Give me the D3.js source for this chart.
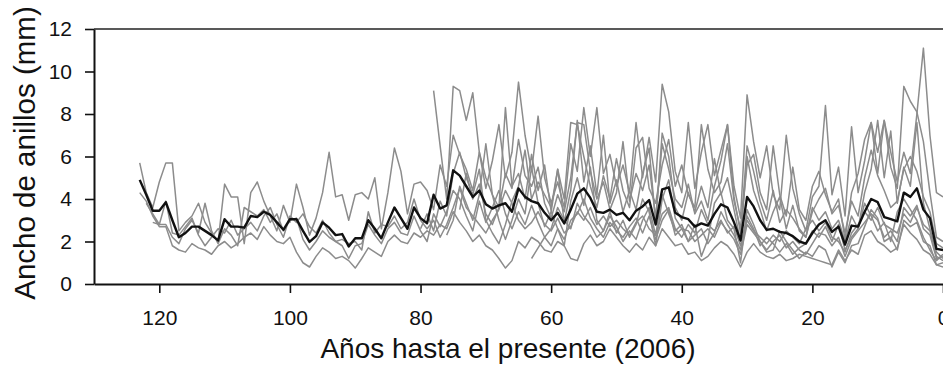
<!DOCTYPE html>
<html>
<head>
<meta charset="utf-8">
<script src="https://cdn.jsdelivr.net/npm/d3@7"></script>
<style>
  html, body { margin: 0; padding: 0; background: #fff; }
  svg { display: block; font-family: "Liberation Sans", Arial, Helvetica, sans-serif; }
</style>
</head>
<body>
<svg id="chart" width="943" height="370"></svg>
<script>
// Ring widths (mm) of individual trees, oldest ring first, ending at year 0 (2006).
const treeStartYears = [123, 123, 122, 121, 78, 80, 76, 63, 74];

const tree1 = [5.7,4.3,3.6,4.8,5.7,5.7,2.5,2.9,3.2,3.8, 2.9,2.4,2.0,4.7,4.1,4.1,1.9,4.3,4.8,3.9,
  3.2,2.5,3.7,2.9,4.7,3.6,2.3,3.1,4.3,6.2, 4.1,4.2,3.0,4.2,4.3,4.0,5.0,2.6,4.3,6.4, 5.3,3.3,4.7,4.8,
  4.4,3.5,5.6,4.6,7.0,6.1,5.4,4.4,6.2,5.0, 4.2,3.6,5.2,4.5,6.8,5.1,4.6,5.5,3.8,3.1,
  4.2,3.4,5.0,7.6,7.5,5.3,4.0,4.8,3.5,4.3, 6.7,3.9,5.2,4.4,5.6,3.1,6.6,5.4,4.0,3.6,
  4.7,3.3,3.9,3.0,4.6,5.8,7.5,4.1,2.4,6.5, 5.3,3.9,3.0,4.4,2.9,3.5,3.1,2.6,2.2,3.4,
  4.0,4.5,3.3,3.7,2.4,3.9,3.2,5.0,6.3,5.1, 4.4,3.6,3.9,5.4,6.0,5.3,4.1,3.4,1.9,1.7];

const tree2 = [4.3,3.9,3.2,2.7,2.7,1.8,1.6,1.5,1.9,1.7, 1.6,1.4,1.8,2.0,1.7,1.9,2.2,2.4,2.1,2.7,
  2.3,2.0,1.9,2.2,1.5,1.0,0.8,1.3,1.7,1.5, 1.2,1.3,1.1,0.75,1.2,1.7,1.5,1.3,2.0,2.3, 2.0,1.9,2.4,2.2,
  2.5,2.3,2.8,2.6,3.4,2.9,2.5,2.0,2.3,1.8, 1.6,1.2,0.75,1.1,2.0,1.7,2.2,2.0,1.6,1.5,
  2.0,1.8,1.2,1.1,1.9,2.3,1.8,2.0,2.6,2.2, 1.8,1.5,1.9,1.6,2.2,1.8,2.6,2.2,1.8,1.9,
  1.4,1.5,1.1,1.3,1.7,2.0,1.8,1.4,0.8,1.5, 1.9,1.5,1.3,1.2,1.4,1.1,1.2,1.4,1.3,1.2,
  1.1,1.0,0.9,1.6,1.1,1.6,1.4,2.3,2.5,2.0, 1.8,1.5,1.7,2.8,2.4,2.1,1.6,1.4,0.9,0.8];

const tree3 = [3.8,3.3,2.8,2.8,2.2,1.9,2.6,3.0,2.4,3.8, 2.5,1.9,2.6,2.3,1.8,3.6,3.4,3.2,3.5,2.9,
  3.3,2.5,3.0,3.1,2.1,1.6,2.0,2.5,2.2,2.0, 1.8,1.2,1.8,1.9,2.8,2.3,1.9,2.6,2.9,2.4, 2.3,3.2,2.5,
  2.0,3.3,2.7,3.4,4.4,4.0,3.2,2.5,3.9,2.9, 3.6,4.4,3.3,2.6,3.4,2.8,3.7,2.9,2.2,1.8,
  2.6,2.1,3.0,3.3,4.0,3.1,2.6,2.2,2.9,2.5, 2.2,2.7,3.1,2.4,3.2,2.1,3.0,3.5,2.3,2.6,
  2.5,2.0,2.3,2.6,2.2,2.9,2.5,2.1,1.4,2.8, 2.4,2.0,1.6,2.0,2.3,1.7,2.0,1.6,1.4,1.9,
  2.4,2.3,1.8,2.2,1.3,2.1,2.5,2.9,3.3,3.0, 2.2,2.5,2.0,3.6,3.2,3.7,2.6,2.3,1.2,1.3];

const tree4 = [2.9,2.8,3.9,2.4,2.3,2.7,3.1,2.3,1.8,2.2, 2.6,2.4,3.0,2.3,2.6,2.9,2.5,3.2,3.6,2.8,
  2.2,3.2,2.9,3.3,2.7,2.4,3.0,2.4,2.0,2.1, 1.9,2.0,1.6,3.4,2.4,2.8,2.7,3.2,2.6,2.9, 4.0,3.0,
  2.6,3.0,2.2,2.8,3.6,4.5,3.6,3.2,2.8,2.4, 3.0,3.5,4.4,3.8,3.0,2.6,2.9,3.4,2.8,2.5,
  3.1,2.4,2.7,3.4,3.0,3.6,2.8,3.2,2.7,3.0, 2.6,2.3,2.9,3.2,2.6,2.3,3.3,3.6,2.6,2.2,
  2.8,2.4,3.5,2.8,2.5,3.0,2.4,2.7,1.8,3.0, 2.5,2.2,1.9,2.3,2.0,2.5,2.2,1.9,2.6,3.0,
  2.5,2.9,2.2,2.0,1.5,2.4,2.8,3.4,3.0,3.6, 2.8,2.6,2.4,3.3,2.9,3.6,2.8,2.5,1.3,1.1];

const tree5 = [9.1,6.5,4.0,9.3,9.1,7.7,9.0,6.2,4.5,
  5.8,7.5,5.0,6.2,9.5,7.0,5.3,7.9,5.0,3.8, 4.8,3.6,6.6,5.3,8.3,6.0,8.3,5.2,6.1,4.6,
  5.6,4.3,7.6,5.0,6.9,4.8,9.4,8.1,5.3,4.3, 7.6,4.5,6.2,7.5,5.1,6.3,7.5,4.6,3.1,8.9,
  6.7,5.0,6.5,4.2,3.5,7.0,4.5,3.3,2.5,4.1, 4.6,8.4,4.2,5.5,3.2,7.4,4.3,5.8,7.6,6.2,
  7.7,5.5,4.5,9.3,8.6,8.1,6.7,4.3,2.2,2.0];

const tree6 = [2.6,
  3.3,2.5,3.9,3.2,5.2,6.2,5.0,4.2,5.4,3.0, 2.4,1.9,2.8,3.9,4.6,6.3,4.0,4.8,4.2,3.6,
  5.4,4.0,7.6,7.5,6.0,4.6,3.6,5.1,4.0,5.9, 4.4,3.6,6.4,6.9,4.5,3.8,5.6,6.8,4.6,5.6,
  4.2,3.6,7.5,5.4,4.3,4.8,6.6,3.9,2.6,5.6, 6.1,4.3,3.5,6.5,4.2,3.2,5.5,3.5,3.0,4.6,
  5.3,4.2,3.4,4.0,2.1,4.3,5.2,6.8,7.6,5.2, 7.7,6.2,4.8,6.2,5.2,8.0,11.1,7.0,4.3,4.1];

const tree7 = [2.3,3.0,4.6,3.8,3.0,4.2,6.6,
  4.2,3.0,2.1,3.0,4.0,3.3,5.5,3.8,2.7,3.4, 2.6,1.8,3.9,5.0,3.7,5.5,3.0,2.5,3.4,2.4,
  3.0,2.2,2.8,4.0,3.4,1.8,4.0,4.9,3.1,2.6, 2.0,2.8,1.3,2.1,3.8,4.3,3.0,2.6,1.0,3.5,
  2.8,2.0,1.5,1.6,2.5,2.0,1.6,1.2,1.5,1.3, 1.8,1.6,0.8,1.5,1.0,1.8,1.9,2.7,3.5,3.1,
  2.0,2.2,1.6,3.0,2.7,2.9,2.0,1.8,0.9,1.0];

const tree8 = [1.2,1.7,2.2,2.6,
  3.6,3.0,2.6,3.8,3.2,2.8,2.2,2.5,3.2,2.7, 2.0,2.5,2.1,3.0,3.6,2.3,4.2,3.3,2.5,2.8,
  2.0,2.3,2.6,1.9,2.4,3.4,2.8,2.3,1.6,3.2, 2.6,1.8,2.2,1.9,1.5,1.9,1.4,1.7,1.9,2.5,
  2.2,2.7,2.0,2.8,1.6,2.2,2.6,3.8,3.2,2.5, 2.9,2.0,3.4,4.0,3.5,3.0,2.2,1.6,1.1,1.4];

const tree9 = [3.5,5.2,4.0,4.7,3.3,
  2.8,3.6,8.3,4.6,5.2,4.0,6.1,4.4,5.6,3.4, 5.4,2.9,4.4,7.7,4.8,6.5,4.2,7.0,3.8,4.9,
  3.4,4.4,3.5,5.2,6.4,2.9,7.1,6.0,3.6,3.0, 4.3,3.4,4.6,3.6,5.9,4.2,5.0,3.5,2.0,6.0,
  4.4,3.5,2.5,3.4,4.1,2.6,3.7,2.5,2.2,3.6, 3.0,3.4,2.6,3.0,2.0,3.2,2.6,4.3,5.4,7.7,
  5.0,7.2,3.8,5.5,4.6,7.6,3.8,2.6,1.5,1.2];

// Mean chronology, year 123 to year 0.
const meanStartYear = 123;
const meanWidth = [4.9,4.2,3.45,3.45,3.85,3.0,2.2,2.4,2.7,2.7, 2.5,2.3,2.05,3.05,2.7,2.7,2.65,3.2,3.15,3.4,
  3.25,2.9,2.55,3.05,3.05,2.5,1.98,2.25,2.9,2.65, 2.3,2.35,1.77,2.15,2.15,3.0,2.6,2.15,2.9,3.6,
  3.1,2.6,3.6,3.1,2.86,4.2,3.55,3.7,5.35,5.1, 4.6,4.1,4.4,3.75,3.55,3.7,3.8,3.4,4.5,4.1,
  3.9,3.8,3.35,3.0,3.35,2.85,3.5,4.25,4.5,4.05, 3.4,3.35,3.5,3.25,3.35,3.0,3.45,3.65,3.95,2.8,
  4.45,4.55,3.35,3.15,3.05,2.7,2.85,2.75,3.3,3.75, 3.6,2.9,2.05,4.1,3.65,3.0,2.55,2.6,2.45,2.4,
  2.25,2.0,1.9,2.4,2.8,3.0,2.45,2.7,1.85,2.75, 2.7,3.4,4.0,3.85,3.15,3.05,2.95,4.3,4.1,4.5,
  3.5,3.1,1.65,1.6];

const xTicks = [120, 100, 80, 60, 40, 20, 0];
const yTicks = [0, 2, 4, 6, 8, 10, 12];
const xTitle = "Años hasta el presente (2006)";
const yTitle = "Ancho de anillos (mm)";

const trees = [tree1, tree2, tree3, tree4, tree5, tree6, tree7, tree8, tree9];

const svg = d3.select("#chart");
const plot = { left: 94, right: 943, top: 29, bottom: 284 };

const x = d3.scaleLinear().domain([130, 0]).range([plot.left, plot.right]);
const y = d3.scaleLinear().domain([0, 12]).range([plot.bottom, plot.top]);

const toPoints = (values, start) => values.map((v, i) => ({ year: start - i, value: v }));
const line = d3.line().x(d => x(d.year)).y(d => y(d.value));

// Individual tree series
svg.append("g")
  .selectAll("path")
  .data(trees.map((t, i) => toPoints(t, treeStartYears[i])))
  .join("path")
  .attr("d", line)
  .attr("fill", "none")
  .attr("stroke", "#8c8c8c")
  .attr("stroke-width", 1.5)
  .attr("stroke-linejoin", "round");

// Mean series on top
svg.append("path")
  .datum(toPoints(meanWidth, meanStartYear))
  .attr("d", line)
  .attr("fill", "none")
  .attr("stroke", "#111")
  .attr("stroke-width", 2.4)
  .attr("stroke-linejoin", "round");

// Top frame line
svg.append("line")
  .attr("x1", plot.left).attr("x2", plot.right)
  .attr("y1", plot.top).attr("y2", plot.top)
  .attr("stroke", "#222").attr("stroke-width", 1.6);

const xAxis = svg.append("g")
  .attr("transform", `translate(0,${plot.bottom})`)
  .call(d3.axisBottom(x).tickValues(xTicks).tickFormat(d3.format("d"))
    .tickSize(9).tickSizeOuter(0).tickPadding(17));

const yAxis = svg.append("g")
  .attr("transform", `translate(${plot.left},0)`)
  .call(d3.axisLeft(y).tickValues(yTicks).tickFormat(d3.format("d"))
    .tickSize(9).tickSizeOuter(0).tickPadding(13));

[xAxis, yAxis].forEach(g => {
  g.select(".domain").attr("stroke", "#111").attr("stroke-width", 2);
  g.selectAll(".tick line").attr("stroke", "#111").attr("stroke-width", 1.6);
  g.selectAll(".tick text")
    .attr("fill", "#111")
    .style("font-size", "21px")
    .style("font-family", "'Liberation Sans', Arial, sans-serif");
});

svg.append("text")
  .attr("x", 508).attr("y", 358)
  .attr("text-anchor", "middle")
  .attr("fill", "#111")
  .style("font-size", "28px")
  .text(xTitle);

svg.append("text")
  .attr("transform", "translate(35,153) rotate(-90)")
  .attr("text-anchor", "middle")
  .attr("fill", "#111")
  .style("font-size", "29.5px")
  .text(yTitle);
</script>
</body>
</html>
